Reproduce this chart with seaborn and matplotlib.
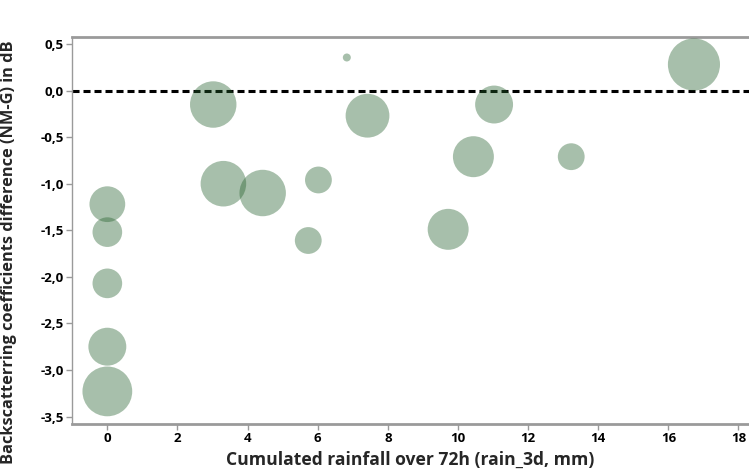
import matplotlib
matplotlib.use("Agg")
import matplotlib.pyplot as plt
from matplotlib.ticker import FuncFormatter
import seaborn as sns
import pandas as pd

# Observations: cumulated 72h rainfall vs. backscatter difference (NM-G)
rain_3d = [0.0, 0.0, 0.0, 0.0, 0.0, 3.02, 3.31, 4.43, 6.02, 5.73,
           6.83, 7.42, 9.72, 10.44, 11.03, 13.23, 16.73]
sigma_diff = [-1.22, -1.52, -2.07, -2.75, -3.23, -0.15, -1.00, -1.10, -0.96, -1.61,
              0.355, -0.27, -1.49, -0.71, -0.15, -0.71, 0.28]
weight = [32, 22, 22, 36, 62, 54, 52, 54, 18, 18,
          1.6, 48, 42, 42, 36, 18, 68]

x_ticks = [0, 2, 4, 6, 8, 10, 12, 14, 16, 18]
y_ticks = [0.5, 0.0, -0.5, -1.0, -1.5, -2.0, -2.5, -3.0, -3.5]

df = pd.DataFrame({"rain_3d": rain_3d, "diff": sigma_diff, "weight": weight})

sns.set_theme(style="white")
plt.rcParams["font.family"] = ["Open Sans", "DejaVu Sans"]

fig = plt.figure(figsize=(7.49, 4.72), dpi=100)
ax = fig.add_axes([0.0965, 0.1017, 0.9035, 0.8205])

sns.scatterplot(
    data=df, x="rain_3d", y="diff", size="weight",
    sizes=(0, 1408), size_norm=(0, 68),
    color="#25612d", alpha=0.4, linewidth=0, legend=False, ax=ax, zorder=3,
)

ax.axhline(0.0, color="black", lw=2.2, dashes=(2.3, 1.3), zorder=2)

ax.set_xlim(-1.0, 18.3)
ax.set_ylim(-3.58, 0.578)
ax.set_xticks(x_ticks)
ax.set_yticks(y_ticks)
ax.yaxis.set_major_formatter(FuncFormatter(lambda v, p: f"{v:.1f}".replace(".", ",").replace("-0,0", "0,0")))

grey = "#9a9a9a"
for side in ("left", "bottom", "top"):
    ax.spines[side].set_visible(True)
    ax.spines[side].set_color(grey)
ax.spines["right"].set_visible(False)
ax.spines["left"].set_linewidth(1.0)
ax.spines["bottom"].set_linewidth(2.0)
ax.spines["top"].set_linewidth(2.0)

ax.tick_params(axis="both", which="major", direction="out", length=4, width=1.0,
               color=grey, labelsize=9.5, labelcolor="black", pad=2,
               bottom=True, left=True)
for lab in ax.get_xticklabels() + ax.get_yticklabels():
    lab.set_fontweight("bold")

ax.set_xlabel("Cumulated rainfall over 72h (rain_3d, mm)", fontsize=12.6,
              fontweight="bold", labelpad=4)
ax.set_ylabel("Backscatterring coefficients difference (NM-G) in dB", fontsize=11.8,
              fontweight="bold")
ax.yaxis.set_label_coords(-0.082, 0.444)

fig.savefig("out.png", dpi=100)
